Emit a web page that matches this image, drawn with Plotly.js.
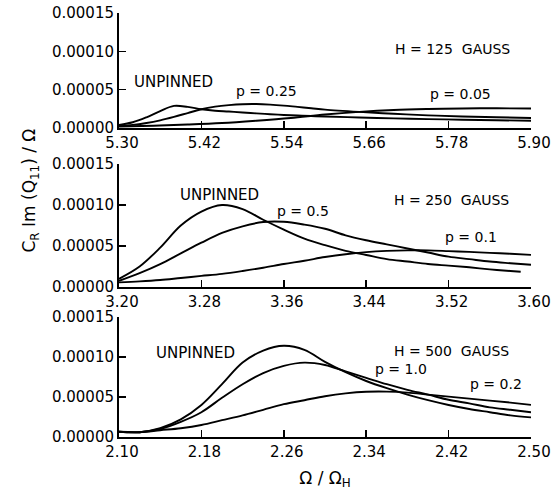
<!DOCTYPE html>
<html>
<head>
<meta charset="utf-8">
<script src="https://cdn.plot.ly/plotly-3.0.1.min.js"></script>
<style>html,body{margin:0;padding:0;background:#fff;}#chart{width:557px;height:495px;}</style>
</head>
<body>
<div id="chart"></div>
<script>
// ---------- Panel 1: H = 125 gauss ----------
const p1_unpinned_x = [5.30,5.32,5.34,5.36,5.38,5.40,5.42,5.44,5.46,5.48,5.50,5.52,5.54,5.56,5.58,5.60,5.65,5.70,5.75,5.80,5.85,5.90];
const p1_unpinned_y = [0.000004,0.0000075,0.000014,0.000022,0.0000288,0.0000275,0.0000245,0.0000225,0.0000215,0.0000202,0.000019,0.000018,0.000017,0.0000163,0.0000156,0.000015,0.0000137,0.0000126,0.0000116,0.0000108,0.0000101,0.0000095];
const p1_p025_x = [5.30,5.32,5.34,5.36,5.38,5.40,5.42,5.44,5.46,5.48,5.50,5.52,5.54,5.56,5.58,5.60,5.65,5.70,5.75,5.80,5.85,5.90];
const p1_p025_y = [0.000003,0.000004,0.0000065,0.000010,0.0000145,0.0000195,0.0000245,0.0000278,0.0000298,0.000031,0.0000312,0.0000305,0.0000292,0.0000275,0.0000258,0.000024,0.000021,0.0000185,0.0000165,0.000015,0.000014,0.000013];
const p1_p005_x = [5.30,5.35,5.40,5.45,5.50,5.55,5.60,5.65,5.70,5.75,5.80,5.85,5.90];
const p1_p005_y = [0.000002,0.000003,0.0000045,0.0000065,0.0000095,0.000013,0.0000175,0.000021,0.0000235,0.0000248,0.0000255,0.0000257,0.0000255];
const p1_ticks = [5.30,5.42,5.54,5.66,5.78,5.90];

// ---------- Panel 2: H = 250 gauss ----------
const p2_x = [3.20,3.22,3.24,3.26,3.28,3.30,3.32,3.34,3.36,3.38,3.40,3.42,3.44,3.46,3.48,3.50,3.52,3.54,3.56,3.58,3.60];
const p2_unpinned_x = [3.20,3.22,3.24,3.26,3.28,3.30,3.32,3.34,3.36,3.38,3.40,3.42,3.44,3.46,3.48,3.50,3.52,3.54,3.56,3.58,3.59];
const p2_unpinned_y = [0.000010,0.000025,0.000048,0.000075,0.000092,0.000100,0.000095,0.000082,0.000070,0.000059,0.000051,0.000044,0.000039,0.000034,0.000031,0.000028,0.000026,0.000024,0.0000215,0.0000195,0.0000185];
const p2_p05_y = [0.0000076,0.000017,0.000028,0.000041,0.000054,0.000066,0.000074,0.0000792,0.0000795,0.000076,0.000071,0.000063,0.000057,0.000052,0.000047,0.000042,0.000037,0.000034,0.000031,0.000029,0.0000272];
const p2_p01_y = [0.0000056,0.0000068,0.0000085,0.000011,0.0000135,0.000016,0.0000195,0.0000235,0.000028,0.000032,0.0000365,0.000040,0.0000425,0.000044,0.0000447,0.0000447,0.0000438,0.0000428,0.0000416,0.0000405,0.0000392];
const p2_ticks = [3.20,3.28,3.36,3.44,3.52,3.60];

// ---------- Panel 3: H = 500 gauss ----------
const p3_x = [2.10,2.12,2.14,2.16,2.18,2.20,2.22,2.24,2.26,2.28,2.30,2.32,2.34,2.36,2.38,2.40,2.42,2.44,2.46,2.48,2.50];
const p3_unpinned_y = [0.0000065,0.000006,0.000011,0.000022,0.000040,0.000066,0.000093,0.000108,0.000114,0.000109,0.000094,0.000081,0.000070,0.000061,0.000053,0.000046,0.000040,0.000035,0.000031,0.000027,0.0000245];
const p3_p10_y = [0.0000065,0.000006,0.000010,0.000019,0.000031,0.000049,0.000066,0.000080,0.000089,0.000093,0.000090,0.000082,0.000074,0.000066,0.000059,0.000053,0.0000465,0.000042,0.000037,0.000034,0.000031];
const p3_p02_y = [0.0000065,0.000006,0.0000085,0.000011,0.000015,0.000021,0.000027,0.000034,0.000041,0.000046,0.000051,0.0000545,0.0000565,0.0000567,0.0000555,0.000053,0.0000505,0.000048,0.0000455,0.000043,0.0000402];
const p3_ticks = [2.10,2.18,2.26,2.34,2.42,2.50];

const yTicks = [0, 0.00005, 0.0001, 0.00015];

const FONT = "DejaVu Sans, sans-serif";
const lineStyle = {color: "#000", width: 1.9, shape: "spline", smoothing: 1};

function tr(x, y, ax) {
  return {x: x, y: y, xaxis: "x" + ax, yaxis: "y" + ax, type: "scatter", mode: "lines",
          line: lineStyle, hoverinfo: "skip", showlegend: false};
}

const data = [
  tr(p1_unpinned_x, p1_unpinned_y, ""),
  tr(p1_p025_x, p1_p025_y, ""),
  tr(p1_p005_x, p1_p005_y, ""),
  tr(p2_unpinned_x, p2_unpinned_y, "2"),
  tr(p2_x, p2_p05_y, "2"),
  tr(p2_x, p2_p01_y, "2"),
  tr(p3_x, p3_unpinned_y, "3"),
  tr(p3_x, p3_p10_y, "3"),
  tr(p3_x, p3_p02_y, "3")
];

function xax(ticks, anchor) {
  return {
    range: [ticks[0], ticks[ticks.length - 1]],
    tickvals: ticks, tickformat: ".2f",
    ticks: "inside", ticklen: 7, tickwidth: 1.5, tickcolor: "#000",
    ticklabelshift: 3,
    showline: true, linecolor: "#000", linewidth: 2,
    showgrid: false, zeroline: false, anchor: anchor,
    tickfont: {family: FONT, size: 15, color: "#000"}
  };
}
function yax(dom, anchor) {
  return {
    domain: dom, range: [0, 0.00015], tickvals: yTicks, tickformat: ".5f",
    ticks: "inside", ticklen: 7, tickwidth: 1.5, tickcolor: "#000",
    showline: true, linecolor: "#000", linewidth: 2,
    showgrid: false, zeroline: false, anchor: anchor,
    tickfont: {family: FONT, size: 15, color: "#000"}
  };
}

const ann = (text, x, y, ax, size) => ({
  text: text, x: x, y: y, xref: "x" + ax, yref: "y" + ax,
  showarrow: false, font: {family: FONT, size: size || 14, color: "#000"}
});

const layout = {
  width: 557, height: 495,
  margin: {l: 119, r: 26, t: 13, b: 58},
  paper_bgcolor: "#fff", plot_bgcolor: "#fff",
  showlegend: false,
  xaxis: xax(p1_ticks, "y"),
  yaxis: yax([0.7288, 1], "x"),
  xaxis2: xax(p2_ticks, "y2"),
  yaxis2: yax([0.3538, 0.6439], "x2"),
  xaxis3: Object.assign(xax(p3_ticks, "y3"), {
    title: {text: "Ω / Ω<sub>H</sub>", font: {family: FONT, size: 17, color: "#000"}, standoff: 12}
  }),
  yaxis3: yax([0, 0.283], "x3"),
  annotations: [
    ann("UNPINNED", 5.38, 0.00006, "", 15),
    ann("p = 0.25", 5.515, 0.0000478, ""),
    ann("p = 0.05", 5.797, 0.0000442, ""),
    ann("H = 125  GAUSS", 5.785, 0.000103, ""),
    ann("UNPINNED", 3.298, 0.000112, "2", 15),
    ann("p = 0.5", 3.379, 0.0000924, "2"),
    ann("p = 0.1", 3.542, 0.0000604, "2"),
    ann("H = 250  GAUSS", 3.523, 0.000106, "2"),
    ann("UNPINNED", 2.174, 0.000105, "3", 15),
    ann("p = 1.0", 2.374, 0.0000855, "3"),
    ann("p = 0.2", 2.466, 0.0000657, "3"),
    ann("H = 500  GAUSS", 2.4226, 0.000108, "3"),
    {text: "C<sub>R</sub> Im (Q<sub>11</sub>) / Ω", xref: "paper", yref: "paper",
     x: -0.2476, y: 0.5825, textangle: -90, showarrow: false,
     font: {family: FONT, size: 17, color: "#000"}}
  ]
};

Plotly.newPlot("chart", data, layout, {displayModeBar: false, staticPlot: true});
</script>
</body>
</html>
